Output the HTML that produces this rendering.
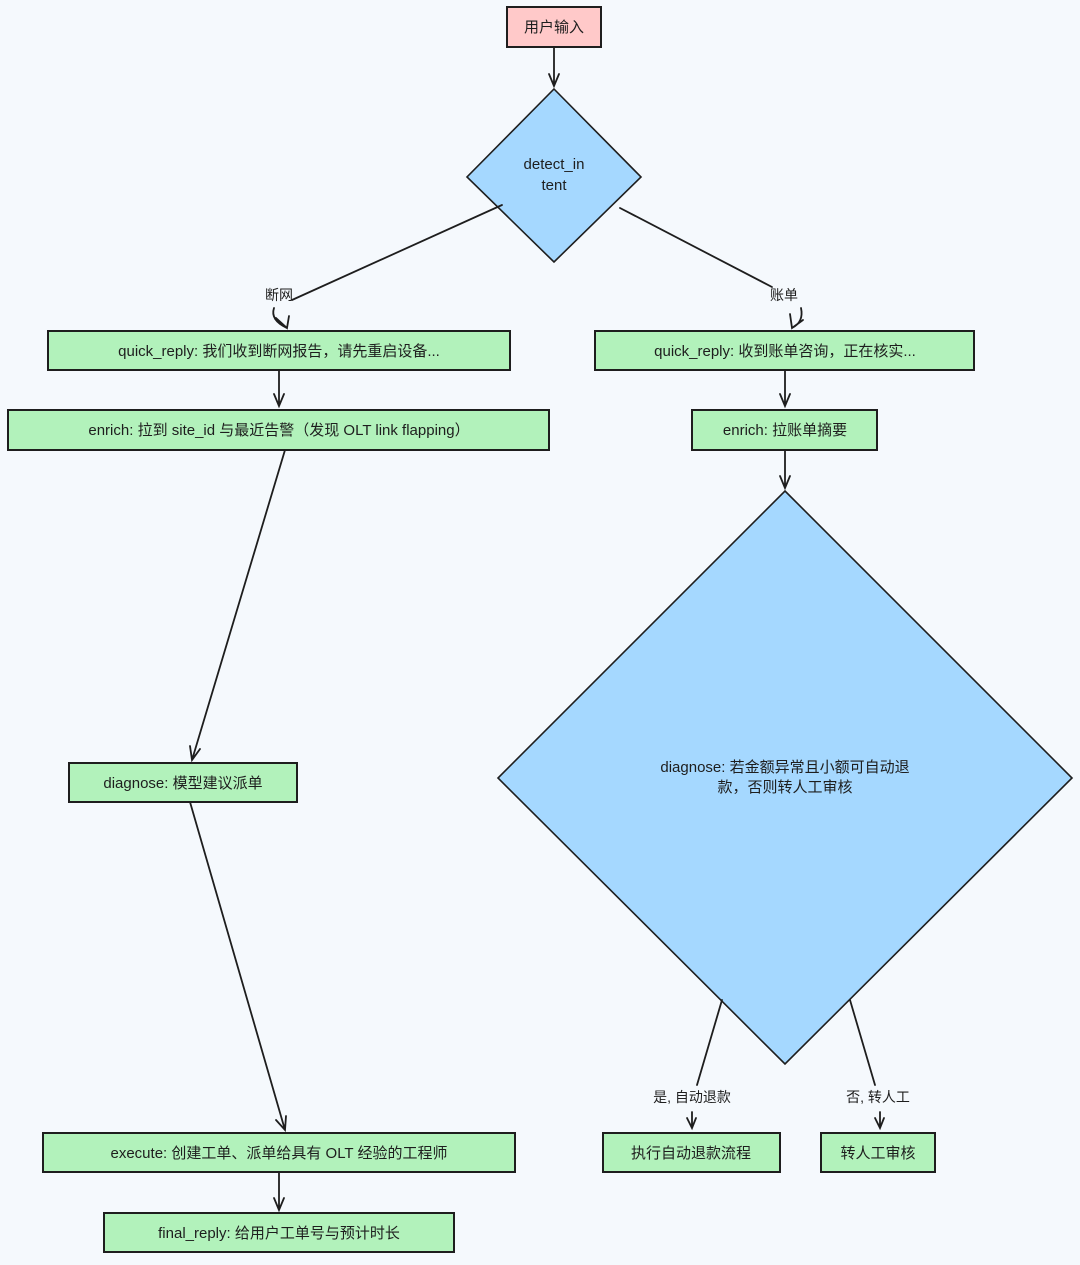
<!DOCTYPE html>
<html><head><meta charset="utf-8"><style>
html,body{margin:0;padding:0;background:#f5f9fd;}
svg text{font-family:"Liberation Sans","Noto Sans CJK SC",sans-serif;fill:#1e1e1e;}
</style></head><body>
<svg width="1080" height="1260" viewBox="0 0 1080 1260" xmlns="http://www.w3.org/2000/svg">
<rect width="1080" height="1260" fill="#f5f9fd"/>
<g stroke="#1e1e1e" stroke-width="2" fill="none">
<rect x="507" y="7" width="94" height="40" fill="#ffc9c9"/>
<polygon points="554,89 641,177 554,262 467,177" fill="#a5d8ff" stroke-width="1.6"/>
<rect x="48" y="331" width="462" height="39" fill="#b2f2bb"/>
<rect x="8" y="410" width="541" height="40" fill="#b2f2bb"/>
<rect x="69" y="763" width="228" height="39" fill="#b2f2bb"/>
<rect x="43" y="1133" width="472" height="39" fill="#b2f2bb"/>
<rect x="104" y="1213" width="350" height="39" fill="#b2f2bb"/>
<rect x="595" y="331" width="379" height="39" fill="#b2f2bb"/>
<rect x="692" y="410" width="185" height="40" fill="#b2f2bb"/>
<polygon points="785,491 1072,778 785,1064 498,778" fill="#a5d8ff" stroke-width="1.6"/>
<rect x="603" y="1133" width="177" height="39" fill="#b2f2bb"/>
<rect x="821" y="1133" width="114" height="39" fill="#b2f2bb"/>
</g>
<g stroke="#1e1e1e" stroke-width="1.8" fill="none" stroke-linecap="round">
<path d="M554 47 L554 86 M549 74 L554 86 L559 74"/>
<path d="M502 205 L292 300"/>
<path d="M274 308 Q270 320 287 328 M276 318 L287 328 L289 316"/>
<path d="M620 208 L772 287"/>
<path d="M801 308 Q804 322 792 328 M790 314 L792 328 L803 320"/>
<path d="M279 370 L279 406 M274 394 L279 406 L284 394"/>
<path d="M785 370 L785 406 M780 394 L785 406 L790 394"/>
<path d="M785 450 L785 488 M780 476 L785 488 L790 476"/>
<path d="M285 450 L192 760 M190 746 L192 760 L200 749"/>
<path d="M190 802 L285 1130 M276 1120 L285 1130 L286 1116"/>
<path d="M279 1172 L279 1210 M274 1198 L279 1210 L284 1198"/>
<path d="M722 1000 L697 1085"/>
<path d="M692 1112 L692 1128 M687 1118 L692 1128 L696 1118"/>
<path d="M850 1000 L875 1085"/>
<path d="M880 1112 L880 1128 M875 1118 L880 1128 L884 1118"/>
</g>
<g font-size="15" text-anchor="middle">
<text x="554" y="32">用户输入</text>
<text x="554" y="169">detect_in</text>
<text x="554" y="190">tent</text>
<text x="279" y="356">quick_reply: 我们收到断网报告，请先重启设备...</text>
<text x="279" y="435">enrich: 拉到 site_id 与最近告警（发现 OLT link flapping）</text>
<text x="183" y="788">diagnose: 模型建议派单</text>
<text x="279" y="1158">execute: 创建工单、派单给具有 OLT 经验的工程师</text>
<text x="279" y="1238">final_reply: 给用户工单号与预计时长</text>
<text x="785" y="356">quick_reply: 收到账单咨询，正在核实...</text>
<text x="785" y="435">enrich: 拉账单摘要</text>
<text x="785" y="772">diagnose: 若金额异常且小额可自动退</text>
<text x="785" y="792">款，否则转人工审核</text>
<text x="691" y="1158">执行自动退款流程</text>
<text x="878" y="1158">转人工审核</text>
</g>
<g font-size="14" text-anchor="middle">
<text x="279" y="300">断网</text>
<text x="784" y="300">账单</text>
<text x="692" y="1102">是, 自动退款</text>
<text x="878" y="1102">否, 转人工</text>
</g>
</svg>
</body></html>
